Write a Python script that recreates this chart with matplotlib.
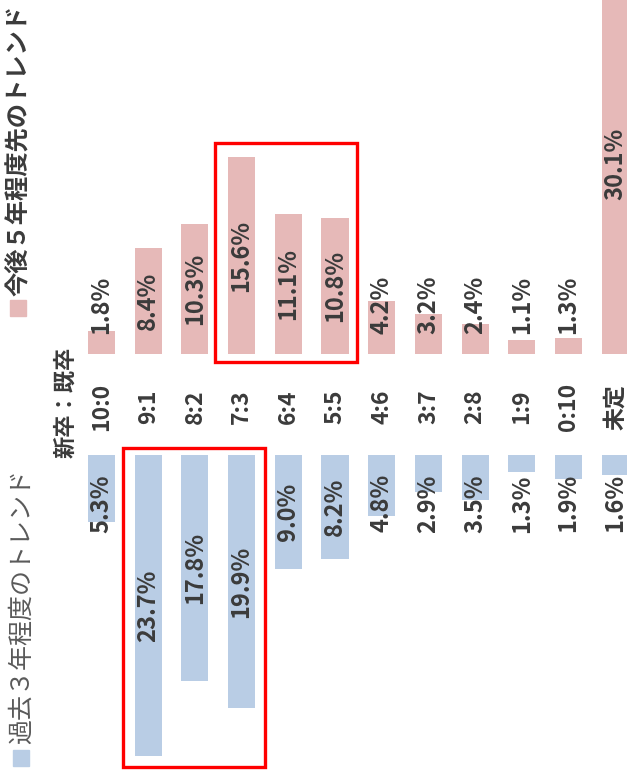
import matplotlib.pyplot as plt
from matplotlib.patches import Rectangle
import numpy as np

plt.rcParams['font.family'] = ['Noto Sans CJK JP', 'DejaVu Sans']

# --- Data ---
ratios = ["10:0", "9:1", "8:2", "7:3", "6:4", "5:5", "4:6", "3:7", "2:8", "1:9", "0:10", "未定"]
future_5y = [1.8, 8.4, 10.3, 15.6, 11.1, 10.8, 4.2, 3.2, 2.4, 1.1, 1.3, 30.1]
past_3y = [5.3, 23.7, 17.8, 19.9, 9.0, 8.2, 4.8, 2.9, 3.5, 1.3, 1.9, 1.6]
label_future = "今後５年程度先のトレンド"
label_past = "過去３年程度のトレンド"
axis_title = "新卒：既卒"

PINK = "#E6B9B8"
BLUE = "#B9CDE5"
TEXT = "#3b3b3b"

W, H = 627, 779
fig = plt.figure(figsize=(W / 100, H / 100), dpi=100)

x = np.arange(len(ratios))
xlim = (-101.5 / 46.7, (W - 101.5) / 46.7)

# top panel: future trend bars grow upward
ax_top = fig.add_axes([0, (H - 354) / H, 1, 354 / H])
ax_top.bar(x, future_5y, width=0.58, color=PINK)
ax_top.set_xlim(*xlim)
ax_top.set_ylim(0, 354 / 12.63)
for xi, v in zip(x, future_5y):
    ax_top.text(xi, max(v / 2, 3.9), f"{v:.1f}%", rotation=90, ha="center", va="center",
                fontsize=17, fontweight="bold", color=TEXT)
ax_top.add_patch(Rectangle((2.43, -0.6), 3.04, 17.3, fill=False, edgecolor="#FF0000",
                           linewidth=2.4, clip_on=False))

# bottom panel: past trend bars grow downward
ax_bot = fig.add_axes([0, 0, 1, 324 / H])
ax_bot.bar(x, past_3y, width=0.58, color=BLUE)
ax_bot.set_xlim(*xlim)
ax_bot.set_ylim(324 / 12.72, 0)
for xi, v in zip(x, past_3y):
    ax_bot.text(xi, max(v / 2, 3.8), f"{v:.1f}%", rotation=90, ha="center", va="center",
                fontsize=17, fontweight="bold", color=TEXT)
ax_bot.add_patch(Rectangle((0.46, -0.55), 3.04, 25.05, fill=False, edgecolor="#FF0000",
                           linewidth=2.4, clip_on=False))

# category labels between the two panels
for xi, lab in zip(x, ratios):
    ax_bot.text(xi, -(455 - 407) / 12.72, lab, rotation=90, ha="center", va="center",
                fontsize=16.5, fontweight="bold", color=TEXT, clip_on=False)
ax_bot.text(-36 / 46.7, -(455 - 402) / 12.72, axis_title, rotation=90, ha="center",
            va="center", fontsize=16, fontweight="bold", color=TEXT, clip_on=False)

for ax in (ax_top, ax_bot):
    ax.axis("off")

# legend entries
fig.patches.append(Rectangle((10 / W, 1 - 316 / H), 16 / W, 16 / H, color=PINK,
                             transform=fig.transFigure, figure=fig))
fig.text(19 / W, 1 - 296 / H, label_future, rotation=90, ha="center", va="bottom",
         fontsize=17.5, fontweight="bold", color=TEXT)
fig.patches.append(Rectangle((13 / W, 1 - 766 / H), 16 / W, 16 / H, color=BLUE,
                             transform=fig.transFigure, figure=fig))
fig.text(22 / W, 1 - 744 / H, label_past, rotation=90, ha="center", va="bottom",
         fontsize=18, color="#5a5a5a")

fig.savefig("out.png", dpi=100)
